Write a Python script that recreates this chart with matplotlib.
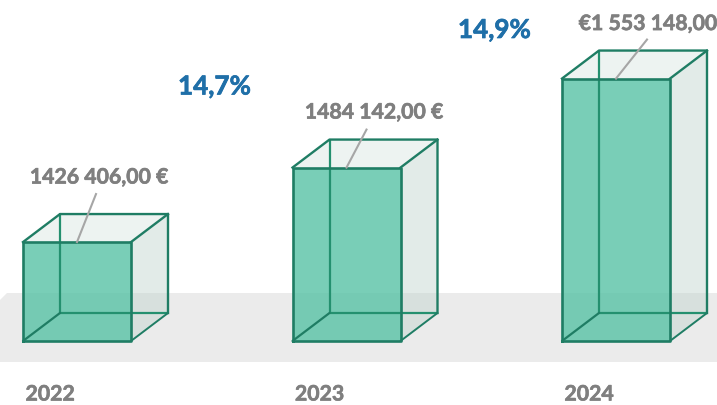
import matplotlib
matplotlib.use("Agg")
import matplotlib.pyplot as plt
import matplotlib.patheffects as pe
from matplotlib.patches import Polygon

years = ["2022", "2023", "2024"]
values = [1426406, 1484142, 1553148]
value_labels = ["1426 406,00 €", "1484 142,00 €", "€1 553 148,00"]
growth_labels = ["14,7%", "14,9%"]

W, H = 717, 405
KY = 0.00129          # pixels per euro
BASE = 1349700        # euro value at the front-bottom edge
SPACING = 269.5       # pixels between categories
X0 = 77.0             # pixel centre of the first category
BASE_PX = 341

plt.rcParams["font.family"] = ["Lato", "DejaVu Sans"]
fig = plt.figure(figsize=(W / 100, H / 100), dpi=100, facecolor="white")
ax = fig.add_axes([0, 0, 1, 1])
ax.set_xlim(-X0 / SPACING, (W - X0) / SPACING)
ax.set_ylim(BASE - (H - BASE_PX) / KY, BASE + BASE_PX / KY)
ax.axis("off")

dx = lambda p: p / SPACING
dy = lambda p: p / KY
xl, xr = ax.get_xlim()

# floor band
floor_top, floor_bot = BASE + dy(48), BASE - dy(21)
ax.add_patch(Polygon([(xl, floor_top - dy(7)), (xl + dx(7), floor_top), (xr, floor_top),
                      (xr, floor_bot), (xl, floor_bot)],
                     closed=True, fc="#ebebeb", ec="none", zorder=1))

half, ox, oy = dx(54), dx(37), dy(28)
LINE = "#1f7d64"
leader_dx = [19, 20, 31]
leader_dy = [48, 38, 39]
label_dx = [22, 27.5, 32]
label_dy = [64.5, 55, 54.5]
thick = [pe.withStroke(linewidth=0.45, foreground="#7f7f7f")]
thick_blue = [pe.withStroke(linewidth=0.5, foreground="#1f6fa8")]

for i, v in enumerate(values):
    l, r = i - half, i + half
    # side, top and base faces
    ax.add_patch(Polygon([(r, BASE), (r + ox, BASE + oy), (r + ox, v + oy), (r, v)],
                         fc="#bfd3cd", alpha=0.45, ec="none", zorder=2))
    ax.add_patch(Polygon([(l, v), (l + ox, v + oy), (r + ox, v + oy), (r, v)],
                         fc="#dce8e4", alpha=0.5, ec="none", zorder=2))
    # front face
    ax.add_patch(Polygon([(l, BASE), (r, BASE), (r, v), (l, v)],
                         fc="#58c2a5", alpha=0.8, ec="none", zorder=3))
    # back edges
    ax.plot([l + ox, l + ox, r + ox], [v + oy, BASE + oy, BASE + oy],
            color="#24906f", lw=1.6, zorder=4, solid_capstyle="round")
    ax.plot([l, l + ox], [BASE, BASE + oy], color=LINE, lw=1.6, zorder=4, solid_capstyle="round")
    ax.plot([r, r + ox], [BASE, BASE + oy], color=LINE, lw=1.4, zorder=4, solid_capstyle="round")
    # front and top edges
    ax.plot([l, r, r, l, l], [BASE, BASE, v, v, BASE], color=LINE, lw=1.9, zorder=5,
            solid_joinstyle="round")
    ax.plot([l, l + ox, r + ox, r + ox], [v, v + oy, v + oy, BASE + oy], color=LINE, lw=1.7,
            zorder=5, solid_joinstyle="round")
    ax.plot([r, r + ox], [v, v + oy], color=LINE, lw=1.7, zorder=5)
    # leader and value label
    ax.plot([i, i + dx(leader_dx[i])], [v, v + dy(leader_dy[i])],
            color="#a6a6a6", lw=1.5, zorder=6)
    ax.text(i + dx(label_dx[i]), v + dy(label_dy[i]), value_labels[i], color="#7f7f7f",
            fontweight="bold", fontsize=15.3, ha="center", va="center", zorder=7,
            path_effects=thick)
    # category label
    ax.text(i - dx(27), BASE - dy(53.5), years[i], color="#7f7f7f", fontweight="bold",
            fontsize=15.3, ha="center", va="center", path_effects=thick)

ax.text(dx(137.5), BASE + dy(254.5), growth_labels[0], color="#1f6fa8", fontweight="bold",
        fontsize=18.8, ha="center", va="center", path_effects=thick_blue)
ax.text(1 + dx(148), BASE + dy(311), growth_labels[1], color="#1f6fa8", fontweight="bold",
        fontsize=18.8, ha="center", va="center", path_effects=thick_blue)

fig.savefig("out.png", dpi=100, facecolor="white")
